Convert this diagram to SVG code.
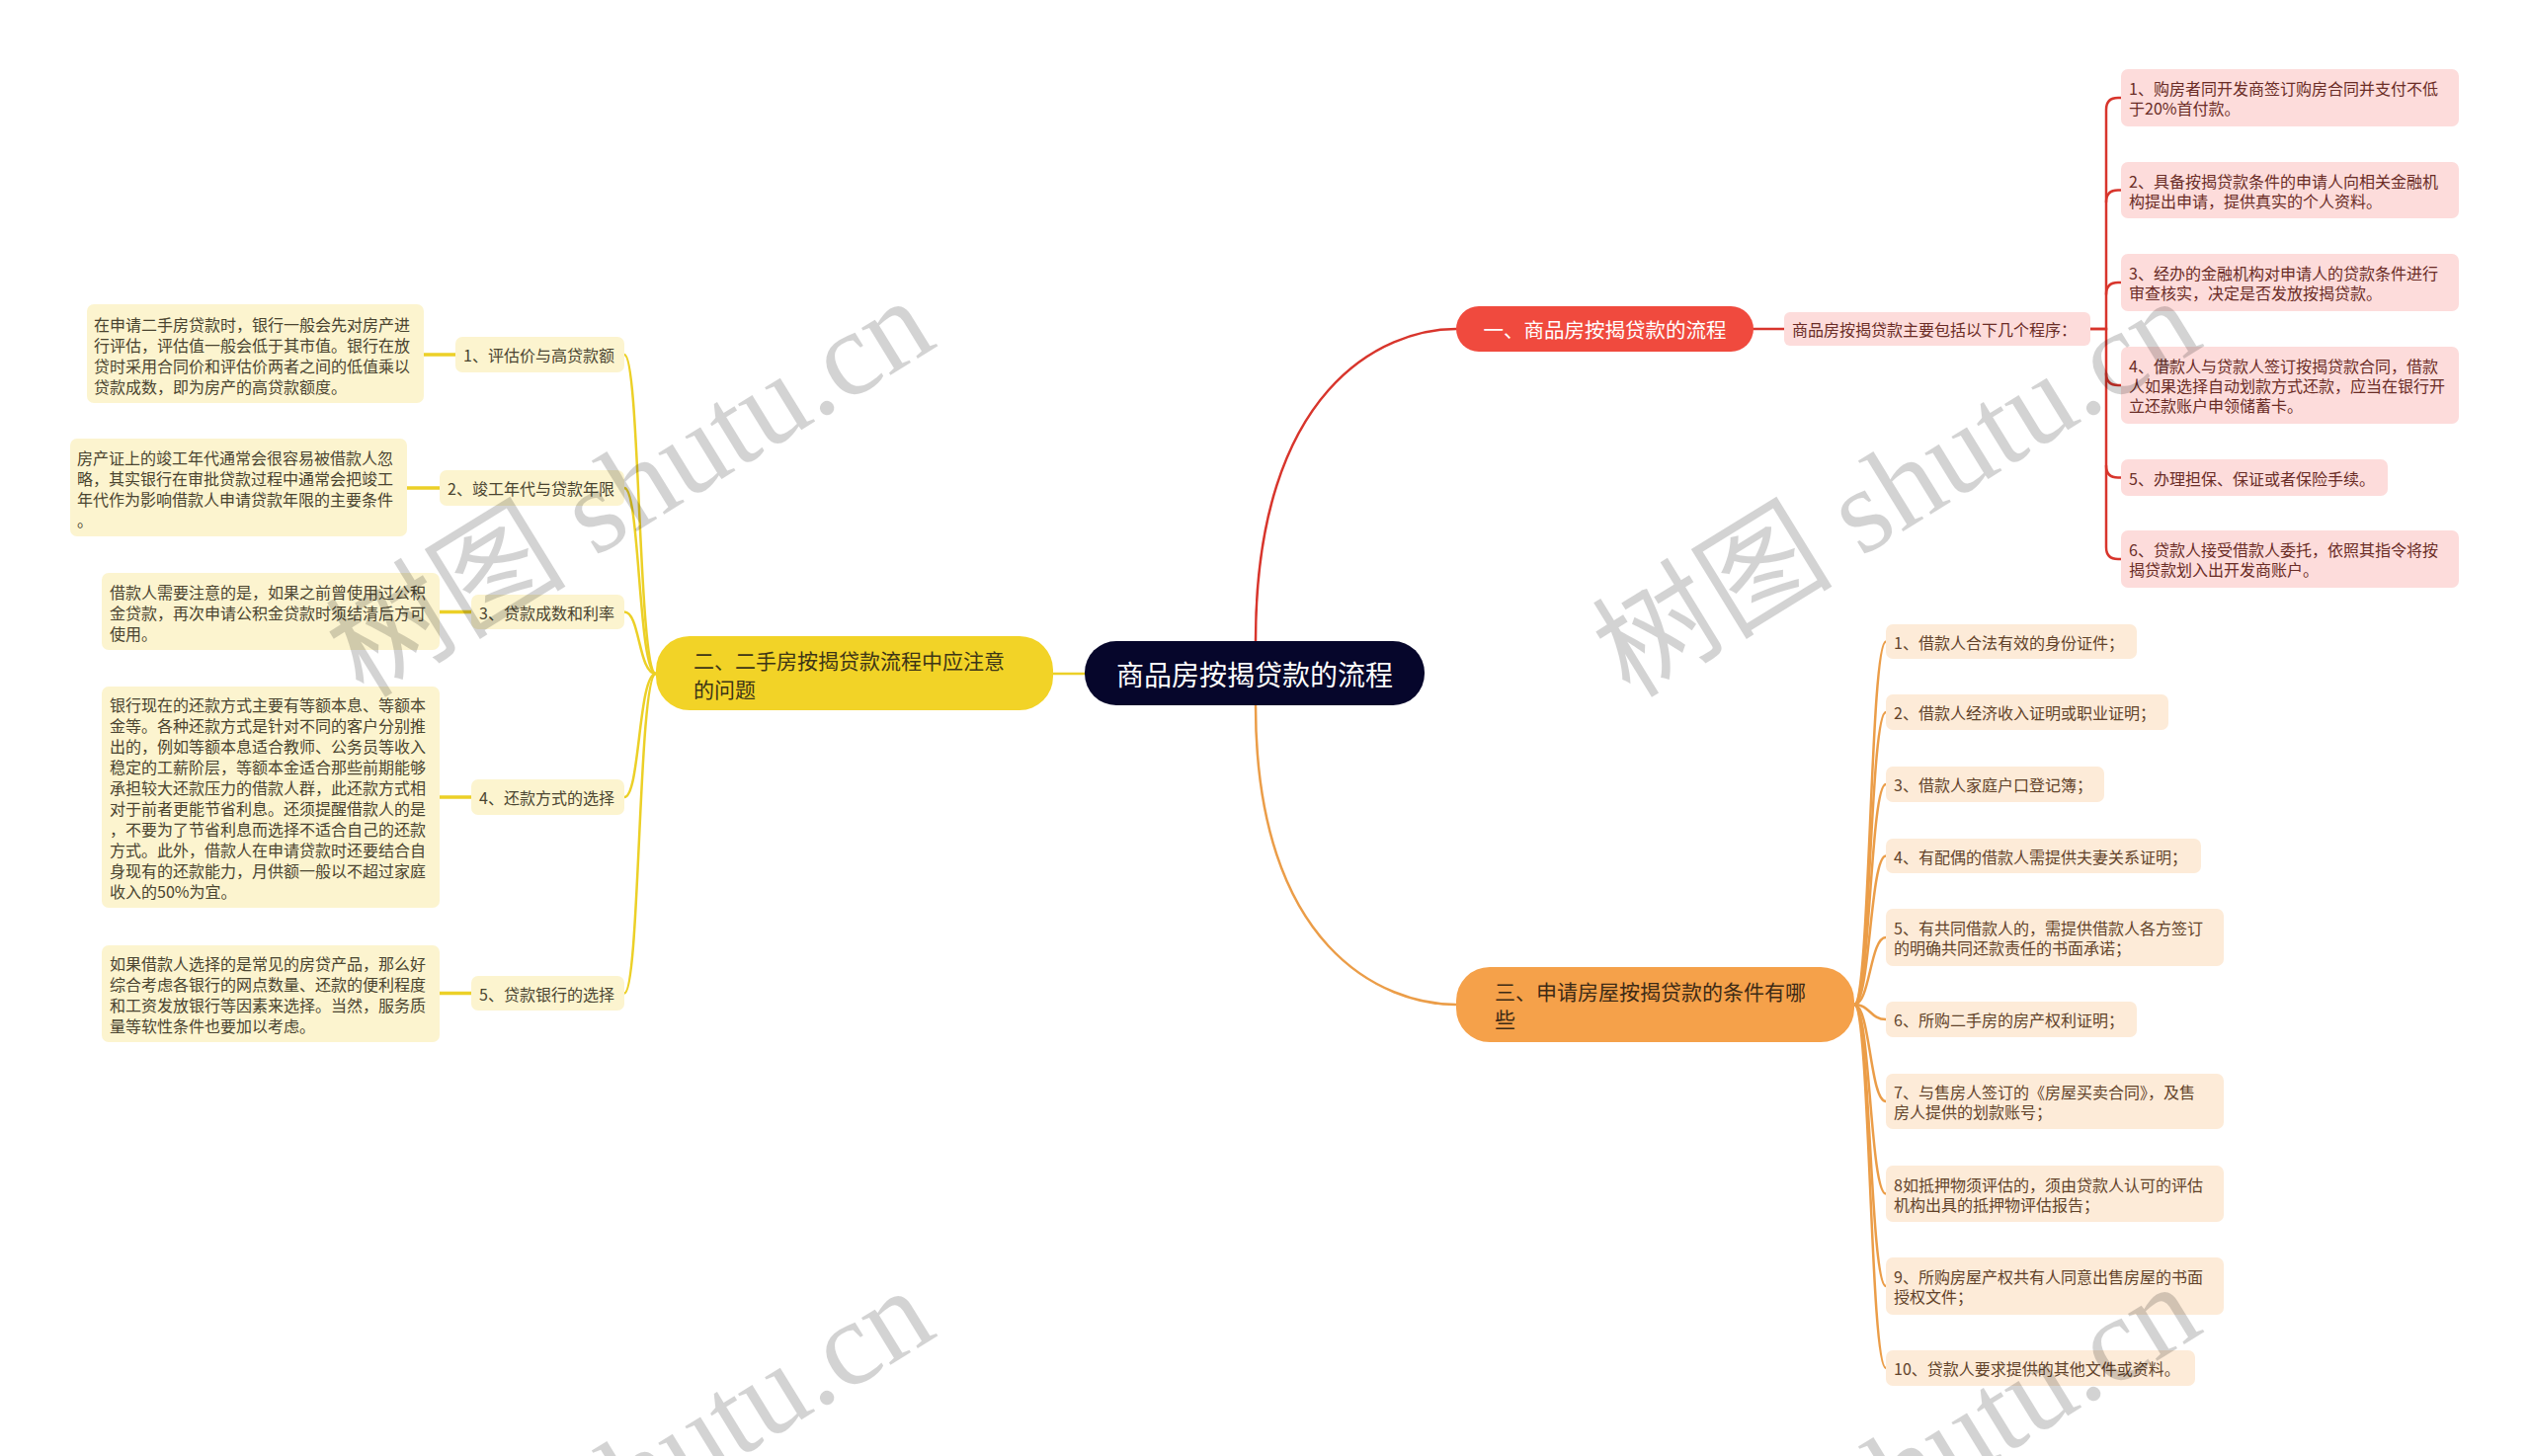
<svg xmlns="http://www.w3.org/2000/svg" width="2560" height="1474" viewBox="0 0 2560 1474">
<style>
text{font-family:"Noto Sans CJK SC","Noto Sans",sans-serif;dominant-baseline:central}
.c{fill:none;stroke-linecap:round}
.r{stroke:#d8352c;stroke-width:2.5}
.o{stroke:#eb9d48;stroke-width:2.5}
.y{stroke:#ecd027;stroke-width:2.5}
.yb{stroke:#ecd027;stroke-width:3.5}
.pl{fill:#fddcdb}
.ol{fill:#fdebd8}
.yl{fill:#fcf4cf}
.pt{fill:#6a2c26;font-size:16px}
.ot{fill:#62432a;font-size:16px}
.yt{fill:#4a4430;font-size:16px}
.wm{font-family:"Liberation Serif","Noto Sans CJK SC",serif;font-size:122px;fill:#000;opacity:0.17;dominant-baseline:alphabetic}
</style>
<rect width="2560" height="1474" fill="#fff"/>
<g id="connectors">
  <path class="c r" d="M1271,649 C1271,393 1400,333 1474,333"/>
  <path class="c o" d="M1271,714 C1271,960 1400,1017 1474,1017"/>
  <path class="c y" d="M1098,682 L1066,682"/>
  <path class="c r" d="M1775,333 L1806,333"/>
  <path class="c r" d="M2116,333 H2132 V111 Q2132,99 2144,99 H2147"/>
  <path class="c r" d="M2132,204.5 Q2132,192.5 2144,192.5 H2147"/>
  <path class="c r" d="M2132,298 Q2132,286 2144,286 H2147"/>
  <path class="c r" d="M2116,333 H2132 V554 Q2132,566 2144,566 H2147"/>
  <path class="c r" d="M2132,378 Q2132,390 2144,390 H2147"/>
  <path class="c r" d="M2132,471.5 Q2132,483.5 2144,483.5 H2147"/>
  <path class="c o" d="M1877,1017 C1893,1017 1893,649.5 1909,649.5"/>
  <path class="c o" d="M1877,1017 C1893,1017 1893,721 1909,721"/>
  <path class="c o" d="M1877,1017 C1893,1017 1893,794 1909,794"/>
  <path class="c o" d="M1877,1017 C1893,1017 1893,866.5 1909,866.5"/>
  <path class="c o" d="M1877,1017 C1893,1017 1893,949 1909,949"/>
  <path class="c o" d="M1877,1017 C1893,1017 1893,1032 1909,1032"/>
  <path class="c o" d="M1877,1017 C1893,1017 1893,1115 1909,1115"/>
  <path class="c o" d="M1877,1017 C1893,1017 1893,1208.5 1909,1208.5"/>
  <path class="c o" d="M1877,1017 C1893,1017 1893,1302 1909,1302"/>
  <path class="c o" d="M1877,1017 C1893,1017 1893,1385 1909,1385"/>
  <path class="c y" d="M664,682 C646,682 648,359 632,359"/>
  <path class="c y" d="M664,682 C646,682 648,494 632,494"/>
  <path class="c y" d="M664,682 C646,682 648,619.5 632,619.5"/>
  <path class="c y" d="M664,682 C646,682 648,807 632,807"/>
  <path class="c y" d="M664,682 C646,682 648,1005.5 632,1005.5"/>
  <path class="c yb" d="M429,359 L461,359"/>
  <path class="c yb" d="M412,494 L445,494"/>
  <path class="c yb" d="M445,619.5 L477,619.5"/>
  <path class="c yb" d="M445,807 L477,807"/>
  <path class="c yb" d="M445,1005.5 L477,1005.5"/>
</g>
<g id="root">
  <rect x="1098" y="649" width="344" height="65" rx="32" fill="#06062b"/>
  <text x="1270" y="682" text-anchor="middle" font-size="28" fill="#fff">商品房按揭贷款的流程</text>
</g>
<g id="branch1">
  <rect x="1474" y="310" width="301" height="46" rx="23" fill="#f04a3e"/>
  <text x="1624.5" y="333" text-anchor="middle" font-size="20.5" fill="#fff">一、商品房按揭贷款的流程</text>
</g>
<g id="b1-sub">
  <rect class="pl" x="1806" y="316" width="310" height="34" rx="6"/>
  <text class="pt" x="1814" y="333">商品房按揭贷款主要包括以下几个程序：</text>
</g>
<g id="b1-leaf1">
  <rect class="pl" x="2147" y="70" width="342" height="58" rx="7"/>
  <text class="pt"><tspan x="2155" y="89">1、购房者同开发商签订购房合同并支付不低</tspan><tspan x="2155" y="109">于20%首付款。</tspan></text>
</g>
<g id="b1-leaf2">
  <rect class="pl" x="2147" y="164" width="342" height="57" rx="7"/>
  <text class="pt"><tspan x="2155" y="182.5">2、具备按揭贷款条件的申请人向相关金融机</tspan><tspan x="2155" y="202.5">构提出申请，提供真实的个人资料。</tspan></text>
</g>
<g id="b1-leaf3">
  <rect class="pl" x="2147" y="257" width="342" height="58" rx="7"/>
  <text class="pt"><tspan x="2155" y="276">3、经办的金融机构对申请人的贷款条件进行</tspan><tspan x="2155" y="296">审查核实，决定是否发放按揭贷款。</tspan></text>
</g>
<g id="b1-leaf4">
  <rect class="pl" x="2147" y="351" width="342" height="78" rx="7"/>
  <text class="pt"><tspan x="2155" y="370">4、借款人与贷款人签订按揭贷款合同，借款</tspan><tspan x="2155" y="390">人如果选择自动划款方式还款，应当在银行开</tspan><tspan x="2155" y="410">立还款账户申领储蓄卡。</tspan></text>
</g>
<g id="b1-leaf5">
  <rect class="pl" x="2147" y="465" width="270" height="37" rx="7"/>
  <text class="pt" x="2155" y="483.5">5、办理担保、保证或者保险手续。</text>
</g>
<g id="b1-leaf6">
  <rect class="pl" x="2147" y="537" width="342" height="58" rx="7"/>
  <text class="pt"><tspan x="2155" y="556">6、贷款人接受借款人委托，依照其指令将按</tspan><tspan x="2155" y="576">揭贷款划入出开发商账户。</tspan></text>
</g>
<g id="branch3">
  <rect x="1474" y="979" width="403" height="76" rx="34" fill="#f5a14a"/>
  <text font-size="21" fill="#3d2a15"><tspan x="1513" y="1003">三、申请房屋按揭贷款的条件有哪</tspan><tspan x="1513" y="1031">些</tspan></text>
</g>
<g id="b3-leaf1">
  <rect class="ol" x="1909" y="632" width="254" height="35" rx="7"/>
  <text class="ot" x="1917" y="649.5">1、借款人合法有效的身份证件；</text>
</g>
<g id="b3-leaf2">
  <rect class="ol" x="1909" y="703" width="286" height="36" rx="7"/>
  <text class="ot" x="1917" y="721">2、借款人经济收入证明或职业证明；</text>
</g>
<g id="b3-leaf3">
  <rect class="ol" x="1909" y="776" width="221" height="36" rx="7"/>
  <text class="ot" x="1917" y="794">3、借款人家庭户口登记簿；</text>
</g>
<g id="b3-leaf4">
  <rect class="ol" x="1909" y="849" width="319" height="35" rx="7"/>
  <text class="ot" x="1917" y="866.5">4、有配偶的借款人需提供夫妻关系证明；</text>
</g>
<g id="b3-leaf5">
  <rect class="ol" x="1909" y="920" width="342" height="58" rx="7"/>
  <text class="ot"><tspan x="1917" y="939">5、有共同借款人的，需提供借款人各方签订</tspan><tspan x="1917" y="959">的明确共同还款责任的书面承诺；</tspan></text>
</g>
<g id="b3-leaf6">
  <rect class="ol" x="1909" y="1014" width="254" height="36" rx="7"/>
  <text class="ot" x="1917" y="1032">6、所购二手房的房产权利证明；</text>
</g>
<g id="b3-leaf7">
  <rect class="ol" x="1909" y="1087" width="342" height="56" rx="7"/>
  <text class="ot"><tspan x="1917" y="1105">7、与售房人签订的《房屋买卖合同》，及售</tspan><tspan x="1917" y="1125">房人提供的划款账号；</tspan></text>
</g>
<g id="b3-leaf8">
  <rect class="ol" x="1909" y="1180" width="342" height="57" rx="7"/>
  <text class="ot"><tspan x="1917" y="1198.5">8如抵押物须评估的，须由贷款人认可的评估</tspan><tspan x="1917" y="1218.5">机构出具的抵押物评估报告；</tspan></text>
</g>
<g id="b3-leaf9">
  <rect class="ol" x="1909" y="1273" width="342" height="58" rx="7"/>
  <text class="ot"><tspan x="1917" y="1292">9、所购房屋产权共有人同意出售房屋的书面</tspan><tspan x="1917" y="1312">授权文件；</tspan></text>
</g>
<g id="b3-leaf10">
  <rect class="ol" x="1909" y="1367" width="313" height="36" rx="7"/>
  <text class="ot" x="1917" y="1385">10、贷款人要求提供的其他文件或资料。</text>
</g>
<g id="branch2">
  <rect x="664" y="644" width="402" height="75" rx="34" fill="#f2d327"/>
  <text font-size="21" fill="#3d3516"><tspan x="702" y="667.5">二、二手房按揭贷款流程中应注意</tspan><tspan x="702" y="696.5">的问题</tspan></text>
</g>
<g id="b2-label1">
  <rect class="yl" x="461" y="341" width="171" height="36" rx="7"/>
  <text class="yt" x="469" y="359">1、评估价与高贷款额</text>
</g>
<g id="b2-desc1">
  <rect class="yl" x="88" y="308" width="341" height="100" rx="7"/>
  <text class="yt"><tspan x="95" y="327.5">在申请二手房贷款时，银行一般会先对房产进</tspan><tspan x="95" y="348.5">行评估，评估值一般会低于其市值。银行在放</tspan><tspan x="95" y="369.5">贷时采用合同价和评估价两者之间的低值乘以</tspan><tspan x="95" y="390.5">贷款成数，即为房产的高贷款额度。</tspan></text>
</g>
<g id="b2-label2">
  <rect class="yl" x="445" y="476" width="187" height="36" rx="7"/>
  <text class="yt" x="453" y="494">2、竣工年代与贷款年限</text>
</g>
<g id="b2-desc2">
  <rect class="yl" x="71" y="444" width="341" height="99" rx="7"/>
  <text class="yt"><tspan x="78" y="463">房产证上的竣工年代通常会很容易被借款人忽</tspan><tspan x="78" y="484">略，其实银行在审批贷款过程中通常会把竣工</tspan><tspan x="78" y="505">年代作为影响借款人申请贷款年限的主要条件</tspan><tspan x="78" y="526">。</tspan></text>
</g>
<g id="b2-label3">
  <rect class="yl" x="477" y="602" width="155" height="35" rx="7"/>
  <text class="yt" x="485" y="619.5">3、贷款成数和利率</text>
</g>
<g id="b2-desc3">
  <rect class="yl" x="103" y="580" width="342" height="78" rx="7"/>
  <text class="yt"><tspan x="111" y="599">借款人需要注意的是，如果之前曾使用过公积</tspan><tspan x="111" y="620">金贷款，再次申请公积金贷款时须结清后方可</tspan><tspan x="111" y="641">使用。</tspan></text>
</g>
<g id="b2-label4">
  <rect class="yl" x="477" y="789" width="155" height="36" rx="7"/>
  <text class="yt" x="485" y="807">4、还款方式的选择</text>
</g>
<g id="b2-desc4">
  <rect class="yl" x="103" y="695" width="342" height="224" rx="7"/>
  <text class="yt"><tspan x="111" y="713">银行现在的还款方式主要有等额本息、等额本</tspan><tspan x="111" y="734">金等。各种还款方式是针对不同的客户分别推</tspan><tspan x="111" y="755">出的，例如等额本息适合教师、公务员等收入</tspan><tspan x="111" y="776">稳定的工薪阶层，等额本金适合那些前期能够</tspan><tspan x="111" y="797">承担较大还款压力的借款人群，此还款方式相</tspan><tspan x="111" y="818">对于前者更能节省利息。还须提醒借款人的是</tspan><tspan x="111" y="839">，不要为了节省利息而选择不适合自己的还款</tspan><tspan x="111" y="860">方式。此外，借款人在申请贷款时还要结合自</tspan><tspan x="111" y="881">身现有的还款能力，月供额一般以不超过家庭</tspan><tspan x="111" y="902">收入的50%为宜。</tspan></text>
</g>
<g id="b2-label5">
  <rect class="yl" x="477" y="988" width="155" height="35" rx="7"/>
  <text class="yt" x="485" y="1005.5">5、贷款银行的选择</text>
</g>
<g id="b2-desc5">
  <rect class="yl" x="103" y="957" width="342" height="98" rx="7"/>
  <text class="yt"><tspan x="111" y="974.5">如果借款人选择的是常见的房贷产品，那么好</tspan><tspan x="111" y="995.5">综合考虑各银行的网点数量、还款的便利程度</tspan><tspan x="111" y="1016.5">和工资发放银行等因素来选择。当然，服务质</tspan><tspan x="111" y="1037.5">量等软性条件也要加以考虑。</tspan></text>
</g>
<g id="watermarks">
  <text class="wm" transform="translate(368,708) rotate(-31.6)">树图 shutu.cn</text>
  <text class="wm" transform="translate(1650,708) rotate(-31.6)">树图 shutu.cn</text>
  <text class="wm" transform="translate(368,1710) rotate(-31.6)">树图 shutu.cn</text>
  <text class="wm" transform="translate(1650,1706) rotate(-31.6)">树图 shutu.cn</text>
</g>
</svg>
